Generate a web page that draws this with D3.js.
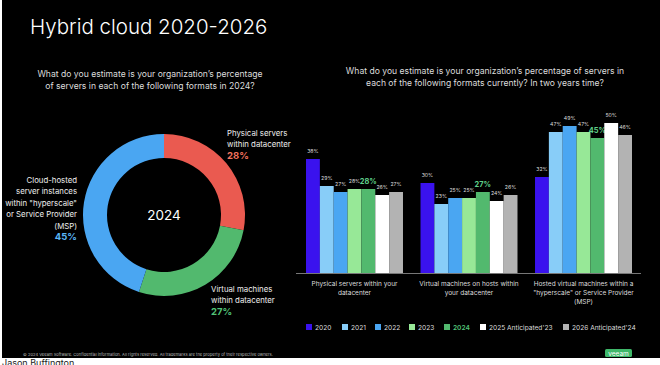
<!DOCTYPE html>
<html><head><meta charset="utf-8">
<script src="https://cdn.jsdelivr.net/npm/d3@7/dist/d3.min.js"></script>
<style>
html,body{margin:0;padding:0;background:#fff;}
svg{display:block;font-family:Inter,"Open Sans",sans-serif;}
</style></head>
<body><svg id="c" width="660" height="365"></svg>
<script>
// ---- data ----
const pieLabels = ["Physical servers within datacenter","Virtual machines within datacenter","Cloud-hosted server instances within \"hyperscale\" or Service Provider (MSP)"];
const pieValues = [28, 27, 45];
const pieColors = ["#ea5a50","#52b96e","#4aa6f2"];
const pieCenter = "2024";

const categories = ["Physical servers within your datacenter","Virtual machines on hosts within your datacenter","Hosted virtual machines within a \"hyperscale\" or Service Provider (MSP)"];
const years = ["2020","2021","2022","2023","2024","2025 Anticipated'23","2026 Anticipated'24"];
const s2020 = [38, 30, 32];
const s2021 = [29, 23, 47];
const s2022 = [27, 25, 49];
const s2023 = [28, 25, 47];
const s2024 = [28, 27, 45];
const s2025 = [26, 24, 50];
const s2026 = [27, 26, 46];
const series = [s2020, s2021, s2022, s2023, s2024, s2025, s2026];
const yearColors = ["#3a12ee","#88cdf8","#4aa6f2","#97e897","#52b96e","#ffffff","#b3b3b3"];

const svg = d3.select("#c");
// slide background
svg.append("rect").attr("x",0).attr("y",0).attr("width",660).attr("height",365).attr("fill","#ffffff");
svg.append("rect").attr("x",2).attr("y",0).attr("width",658).attr("height",358).attr("fill","#000");
svg.append("text").attr("x",2).attr("y",366).attr("font-size",9).attr("fill","#222").text("Jason Buffington");

// title
svg.append("text").attr("x",30).attr("y",34).attr("font-size",20.5).attr("fill","#fff").attr("font-weight",300).text("Hybrid cloud 2020-2026");

// left question
const lq = ["What do you estimate is your organization’s percentage","of servers in each of the following formats in 2024?"];
lq.forEach((t,i)=>svg.append("text").attr("x",150).attr("y",77+i*12).attr("text-anchor","middle").attr("font-size",8.6).attr("fill","#ddd").text(t));

// right question
const rq = ["What do you estimate is your organization’s percentage of servers in","each of the following formats currently? In two years time?"];
rq.forEach((t,i)=>svg.append("text").attr("x",485).attr("y",74+i*12).attr("text-anchor","middle").attr("font-size",8.6).attr("fill","#ddd").text(t));

// ---- donut ----
const cx=164, cy=215;
const pie = d3.pie().sort(null).value(d=>d);
const arc = d3.arc().innerRadius(57).outerRadius(81);
const g = svg.append("g").attr("transform",`translate(${cx},${cy})`);
g.selectAll("path").data(pie(pieValues)).join("path").attr("d",arc).attr("fill",(d,i)=>pieColors[i]);
svg.append("text").attr("x",cx).attr("y",cy+5).attr("text-anchor","middle").attr("font-size",13.5).attr("fill","#fff").text(pieCenter);

function labelBlock(lines, x, y0, anchor, pct, col){
  lines.forEach((t,i)=>svg.append("text").attr("x",x).attr("y",y0+i*11.4).attr("text-anchor",anchor).attr("font-size",7.8).attr("fill","#eee").text(t));
  svg.append("text").attr("x",x).attr("y",y0+lines.length*11.4).attr("text-anchor",anchor).attr("font-size",9.5).attr("font-weight",700).attr("fill",col).text(pct+"%");
}
labelBlock(["Physical servers","within datacenter"],227,136,"start",pieValues[0],"#f2735e");
labelBlock(["Virtual machines","within datacenter"],211,292,"start",pieValues[1],"#52c277");
labelBlock(["Cloud-hosted","server instances","within \"hyperscale\"","or Service Provider","(MSP)"],77,183,"end",pieValues[2],"#5ab6f7");

// ---- bars ----
const x0 = d3.scaleBand().domain(categories).range([306,632]).paddingInner(0.153).paddingOuter(0);
const x1 = d3.scaleBand().domain(years).range([0,x0.bandwidth()]).padding(0);
const y = d3.scaleLinear().domain([0,50]).range([273,123]);

const bg = svg.append("g");
categories.forEach((c,ci)=>{
  years.forEach((yr,yi)=>{
    const v = series[yi][ci];
    const bx = x0(c)+x1(yr);
    bg.append("rect").attr("x",bx).attr("y",y(v)).attr("width",x1.bandwidth()).attr("height",y(0)-y(v)).attr("fill",yearColors[yi]);
    const is24 = yr==="2024";
    bg.append("text").attr("x",bx+x1.bandwidth()/2).attr("y",y(v)-(is24?5.5:6.5))
      .attr("text-anchor","middle").attr("font-size",is24?7.4:5.2).attr("font-weight",is24?700:400)
      .attr("fill",is24?"#5fd08a":"#ddd").text(v+"%");
  });
});
svg.append("line").attr("x1",296).attr("x2",641).attr("y1",273.5).attr("y2",273.5).attr("stroke","#777").attr("stroke-width",1);

const catLines = [["Physical servers within your","datacenter"],["Virtual machines on hosts within","your datacenter"],["Hosted virtual machines within a","\"hyperscale\" or Service Provider","(MSP)"]];
categories.forEach((c,ci)=>{
  catLines[ci].forEach((t,i)=>svg.append("text").attr("x",x0(c)+x0.bandwidth()/2).attr("y",286+i*9).attr("text-anchor","middle").attr("font-size",6.5).attr("fill","#ddd").text(t));
});

// legend
const legX = [306,342,375,409,444,480,563];
years.forEach((yr,i)=>{
  svg.append("rect").attr("x",legX[i]).attr("y",324).attr("width",6).attr("height",6).attr("fill",yearColors[i]);
  svg.append("text").attr("x",legX[i]+9).attr("y",330).attr("font-size",6.6).attr("fill",yr==="2024"?"#52c277":"#ddd").attr("font-weight",yr==="2024"?600:400).text(yr);
});

// footer
svg.append("text").attr("x",23).attr("y",356).attr("font-size",4.1).attr("fill","#bbb").text("© 2024 Veeam Software. Confidential information. All rights reserved. All trademarks are the property of their respective owners.");
svg.append("rect").attr("x",605).attr("y",349).attr("width",27).attr("height",8).attr("rx",1.5).attr("fill","#3fb86a");
svg.append("text").attr("x",618.5).attr("y",355.5).attr("text-anchor","middle").attr("font-size",6.5).attr("fill","#fff").text("veeam");
</script></body></html>
